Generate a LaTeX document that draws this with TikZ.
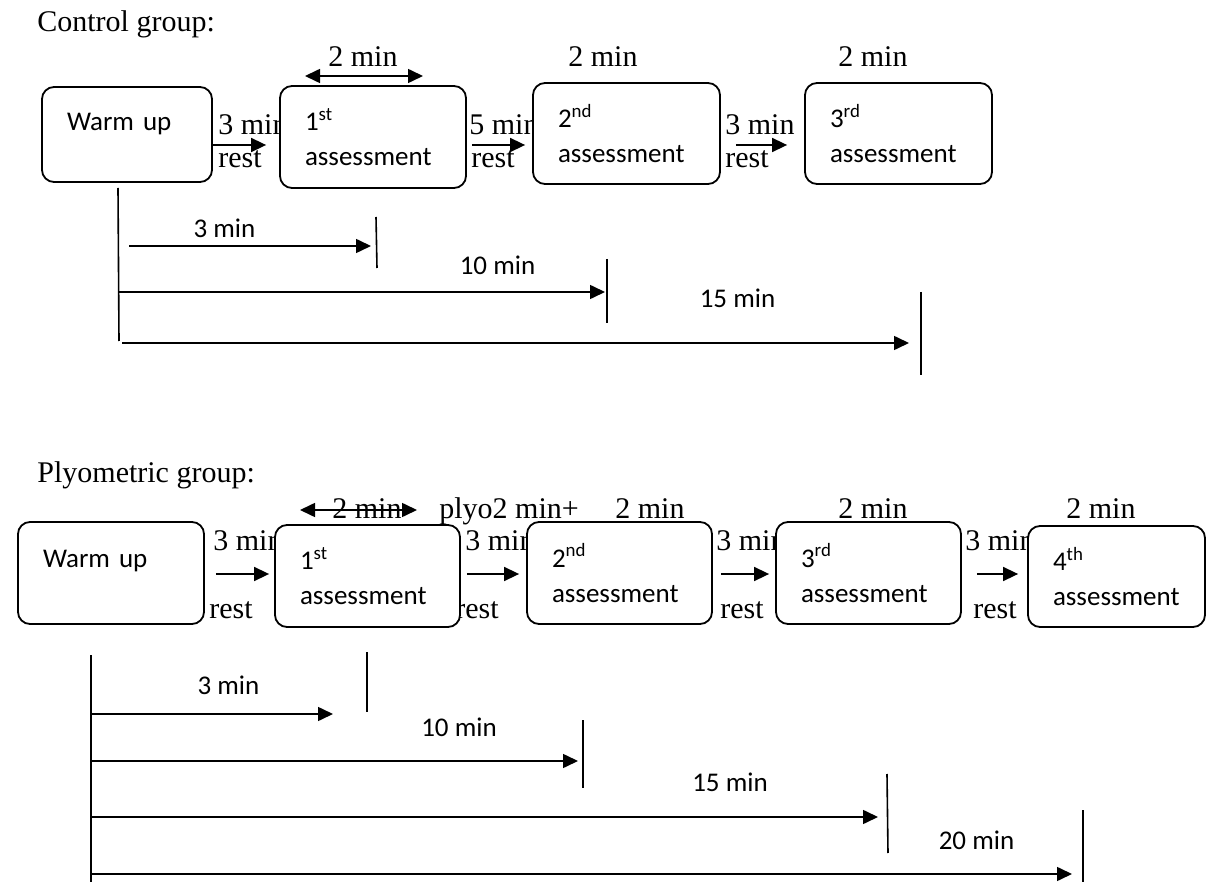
\documentclass[tikz,border=0pt]{standalone}
\usepackage{fontspec}
\setmainfont{Liberation Serif}
\newfontfamily\calibri{Carlito}
\usetikzlibrary{positioning,arrows.meta}

\tikzset{
  stage/.style={draw, rounded corners=6pt, line width=0.9pt, fill=white,
    align=left, inner xsep=12.5pt, inner ysep=0pt, text width=#1,
    font=\calibri\fontsize{13.5}{17.5}\selectfont},
  rmtxt/.style={inner sep=0pt, anchor=base west, font=\fontsize{15}{18}\selectfont},
  sanstxt/.style={inner sep=0pt, font=\calibri\fontsize{13.5}{16}\selectfont},
  restarrow/.style={-{Triangle[length=7.5pt,width=7pt]}, line width=0.8pt},
  twoarrow/.style={{Triangle[length=7.5pt,width=7pt]}-{Triangle[length=7.5pt,width=7pt]}, line width=0.8pt},
  tickline/.style={line width=0.8pt}
}

\begin{document}
\begin{tikzpicture}[x=0.5pt, y=-0.5pt]
      \useasboundingbox (0,0) rectangle (1206,882);
      % control group: the rest labels come first, so that the boxes hide their ends
      \node[rmtxt] (ctl) at (37,32) {Control group:};
      \node[rmtxt] (ra1) at (218,135) {3 min};
      \node[rmtxt] (rb1) at (218,168) {rest};
      \node[rmtxt] (ra2) at (469,135) {5 min};
      \node[rmtxt] (rb2) at (471,168) {rest};
      \node[rmtxt] (ra3) at (725,135) {3 min};
      \node[rmtxt] (rb3) at (725,168) {rest};
      \node[stage=60pt, minimum height=47.5pt] (WA) at (127,134.5) {Warm up\\[-5pt]\mbox{}};
      \node[stage=68pt, minimum height=51pt] (A1) at (373,137) {1\textsuperscript{st}\\assessment};
      \node[stage=68.5pt, minimum height=50.5pt] (A2) at (626.5,133.5) {2\textsuperscript{nd}\\assessment};
      \node[stage=68.5pt, minimum height=50.5pt] (A3) at (898.5,133.5) {3\textsuperscript{rd}\\assessment};
      \coordinate (ra) at (0,145);
      \draw[restarrow, shorten >=6.5pt] (WA.east |- ra) -- (A1.west |- ra);
      \draw[restarrow, shorten <=2.5pt, shorten >=3.5pt] (A1.east |- ra) -- (A2.west |- ra);
      \draw[restarrow, shorten <=7.5pt, shorten >=8.5pt] (A2.east |- ra) -- (A3.west |- ra);
      % durations over the boxes
      \node[rmtxt] (da1) at (328,67) {2 min};
      \node[rmtxt] (da2) at (568,67) {2 min};
      \node[rmtxt] (da3) at (838,67) {2 min};
      \draw[twoarrow] (305,76) -- (423,76);
      % control group time line
      \draw[tickline] (118,188) -- (119,341);
      \draw[restarrow] (129,246) -- (371,246);
      \draw[tickline] (376,217) -- (377,268);
      \node[sanstxt] (ta1) at (224.5,228) {3 min};
      \draw[restarrow] (119,292) -- (605,292);
      \draw[tickline] (607,259) -- (607,323);
      \node[sanstxt] (ta2) at (497.5,265) {10 min};
      \draw[restarrow] (122,343) -- (909,343);
      \draw[tickline] (921,292) -- (921,375);
      \node[sanstxt] (ta3) at (737.5,298) {15 min};

      % plyometric group, same order as above
      \node[rmtxt] (plg) at (37,482) {Plyometric group:};
      \node[rmtxt] (rc1) at (213,551) {3 min};
      \node[rmtxt] (rd1) at (209,618) {rest};
      \node[rmtxt] (rc2) at (465,551) {3 min};
      \node[rmtxt] (rd2) at (455,618) {rest};
      \node[rmtxt] (rc3) at (716,551) {3 min};
      \node[rmtxt] (rd3) at (720,618) {rest};
      \node[rmtxt] (rc4) at (965,551) {3 min};
      \node[rmtxt] (rd4) at (973,618) {rest};
      \node[stage=68pt, minimum height=51pt] (WB) at (111,573) {Warm up\\[-3pt]\mbox{}};
      \node[stage=67.5pt, minimum height=51pt] (B1) at (367.5,576) {1\textsuperscript{st}\\assessment};
      \node[stage=67.5pt, minimum height=51pt] (B2) at (619.5,573) {2\textsuperscript{nd}\\assessment};
      \node[stage=67.5pt, minimum height=51pt] (B3) at (868.5,573) {3\textsuperscript{rd}\\assessment};
      \node[stage=63.5pt, minimum height=50.5pt] (B4) at (1116.5,576.5) {4\textsuperscript{th}\\assessment};
      \coordinate (rb) at (0,574);
      \draw[restarrow, shorten <=5.5pt, shorten >=2.5pt] (WB.east |- rb) -- (B1.west |- rb);
      \draw[restarrow, shorten <=3pt, shorten >=3.5pt] (B1.east |- rb) -- (B2.west |- rb);
      \draw[restarrow, shorten <=4pt, shorten >=3pt] (B2.east |- rb) -- (B3.west |- rb);
      \draw[restarrow, shorten <=7.5pt, shorten >=4.5pt] (B3.east |- rb) -- (B4.west |- rb);
      \node[rmtxt] (db1) at (332,518) {2 min};
      \draw[twoarrow] (300,510) -- (417,510);
      \node[rmtxt] (db0) at (439,518) {plyo2 min+};
      \node[rmtxt] (db2) at (615,518) {2 min};
      \node[rmtxt] (db3) at (838,518) {2 min};
      \node[rmtxt] (db4) at (1066,518) {2 min};
      % plyometric group time line
      \draw[tickline] (91,655) -- (91,882);
      \draw[restarrow] (91,714) -- (333,714);
      \draw[tickline] (367,652) -- (367,712);
      \node[sanstxt] (tb1) at (228.5,685) {3 min};
      \draw[restarrow] (91,761) -- (578,761);
      \draw[tickline] (583,720) -- (583,788);
      \node[sanstxt] (tb2) at (459,727) {10 min};
      \draw[restarrow] (91,817) -- (878,817);
      \draw[tickline] (887,774) -- (888,853);
      \node[sanstxt] (tb3) at (730,782) {15 min};
      \draw[restarrow] (91,874) -- (1072,874);
      \draw[tickline] (1083,810) -- (1083,882);
      \node[sanstxt] (tb4) at (976.5,840) {20 min};
\end{tikzpicture}
\end{document}
